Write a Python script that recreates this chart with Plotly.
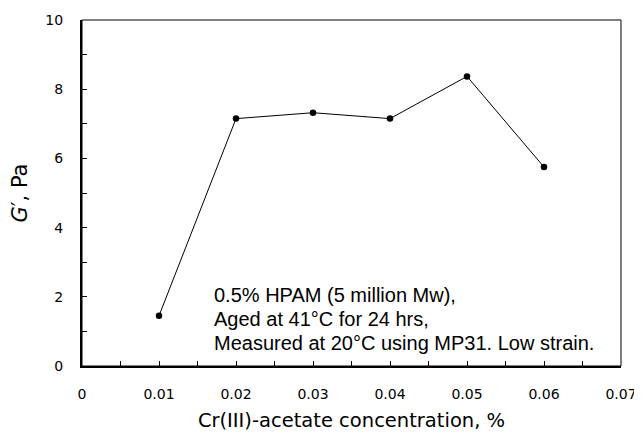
import plotly.graph_objects as go

conc = [0.01, 0.02, 0.03, 0.04, 0.05, 0.06]
g_prime = [1.45, 7.15, 7.32, 7.15, 8.37, 5.75]
x_ticks = [0, 0.01, 0.02, 0.03, 0.04, 0.05, 0.06, 0.07]
x_tick_text = ["0", "0.01", "0.02", "0.03", "0.04", "0.05", "0.06", "0.07"]
note_lines = [
    "0.5% HPAM (5 million Mw),",
    "Aged at 41°C for 24 hrs,",
    "Measured at 20°C using MP31. Low strain.",
]
note_y = [2.05, 1.36, 0.67]

fig = go.Figure()
fig.add_trace(go.Scatter(
    x=conc, y=g_prime, mode="lines+markers",
    line=dict(color="black", width=1),
    marker=dict(color="black", size=6.5),
    showlegend=False,
))

wide = "DejaVu Sans, Verdana, sans-serif"
arial = "Liberation Sans, Arial, sans-serif"
fig.update_layout(
    width=634, height=424,
    margin=dict(l=74, r=21, t=12, b=66, autoexpand=False),
    paper_bgcolor="white", plot_bgcolor="white",
    font=dict(family=wide, color="black", size=15),
    xaxis=dict(
        range=[0, 0.07], showgrid=False, zeroline=False,
        showline=True, linecolor="black", linewidth=2,
        ticks="inside", ticklen=5, tickcolor="black",
        minor=dict(ticks="inside", dtick=0.005, ticklen=5, tickcolor="black"),
        tickvals=x_ticks, ticktext=x_tick_text,
        tickfont=dict(family=wide, size=14),
        ticklabelstandoff=14,
        title=dict(text="Cr(III)-acetate concentration, %", font=dict(family=wide, size=19.5), standoff=14),
    ),
    yaxis=dict(
        range=[0, 10], dtick=2, showgrid=False, zeroline=False,
        showline=True, linecolor="black", linewidth=2,
        ticks="inside", ticklen=5, tickcolor="black",
        minor=dict(ticks="inside", dtick=1, ticklen=5, tickcolor="black"),
        tickfont=dict(family=wide, size=14),
        ticklabelstandoff=14,
        title=dict(text="<i>G</i>′, Pa", font=dict(family=wide, size=21), standoff=12),
    ),
    shapes=[dict(type="rect", xref="paper", yref="paper", x0=0, y0=0, x1=1, y1=1,
                 line=dict(color="black", width=1), layer="above")],
    annotations=[dict(
        x=0.0169, y=yy, xref="x", yref="y", xanchor="left", yanchor="middle",
        align="left", showarrow=False, text=t,
        font=dict(size=20, family=arial),
    ) for t, yy in zip(note_lines, note_y)],
)

fig.write_html("out.html")
